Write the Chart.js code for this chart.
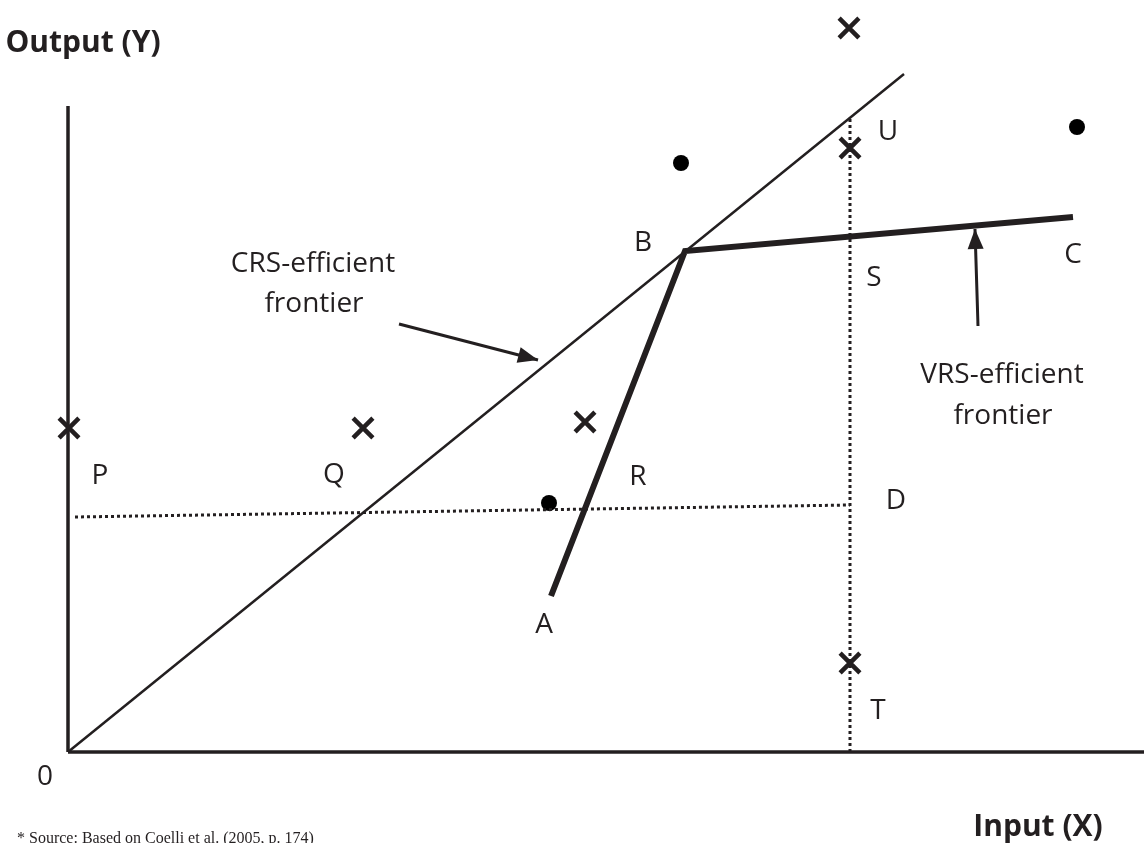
<!DOCTYPE html>
<html>
<head>
<meta charset="utf-8">
<script src="https://cdn.jsdelivr.net/npm/chart.js@4.4.0/dist/chart.umd.min.js"></script>
<style>
  html, body { margin: 0; padding: 0; background: #ffffff; overflow: hidden; }
  #wrap { width: 1144px; height: 843px; position: relative; }
</style>
</head>
<body>
<div id="wrap"><canvas id="c"></canvas></div>
<script>
// ---- data (diagram units) ----
const axisY = [{x: 0, y: 0}, {x: 0, y: 64.6}];
const axisX = [{x: 0, y: 0}, {x: 107.6, y: 0}];
const crsFrontier = [{x: 0, y: 0}, {x: 83.6, y: 67.8}];
const vrsFrontier = [{x: 48.3, y: 15.6}, {x: 61.7, y: 50.1}, {x: 100.5, y: 53.5}];
const dottedPD = [{x: 0.7, y: 23.5}, {x: 78.2, y: 24.7}];
const dottedTU = [{x: 78.2, y: 0}, {x: 78.2, y: 63.4}];
const crossFirms = [
  {x: 0.1, y: 32.4}, {x: 29.5, y: 32.4}, {x: 51.7, y: 33.0},
  {x: 78.2, y: 60.4}, {x: 78.1, y: 72.4}, {x: 78.2, y: 8.9}
];
const dotFirms = [{x: 48.1, y: 24.9}, {x: 61.3, y: 58.9}, {x: 100.9, y: 62.5}];
const crsArrow = [{x: 33.1, y: 42.8}, {x: 47.0, y: 39.2}];
const vrsArrow = [{x: 91.0, y: 42.6}, {x: 90.7, y: 52.3}];

const pointLabels = ['P', 'Q', 'R', 'D', 'A', 'B', 'S', 'U', 'C', 'T'];
const pointLabelPos = [
  {x: 3.2, y: 27.6}, {x: 26.6, y: 27.7}, {x: 57.0, y: 27.5}, {x: 82.8, y: 25.1},
  {x: 47.6, y: 12.7}, {x: 57.5, y: 50.9}, {x: 80.6, y: 47.4}, {x: 82.0, y: 62.0},
  {x: 100.5, y: 49.7}, {x: 81.0, y: 4.1}
];
const noteTexts = ['CRS-efficient', 'frontier', 'VRS-efficient', 'frontier', '0'];
const notePos = [{x: 24.5, y: 48.8}, {x: 24.6, y: 44.8}, {x: 93.4, y: 37.7}, {x: 93.5, y: 33.6}, {x: -2.3, y: -2.5}];
const axisTitleY = 'Output (Y)';
const axisTitleX = 'Input (X)';
const sourceNote = '* Source: Based on Coelli et al. (2005, p. 174)';

const INK = '#231f20';

const lineDs = (data, w, extra) => Object.assign({
  data: data, showLine: true, borderColor: INK, backgroundColor: INK,
  borderWidth: w, pointRadius: 0, pointHoverRadius: 0, fill: false, tension: 0
}, extra || {});

const annotatePlugin = {
  id: 'annotate',
  afterDatasetsDraw(chart) {
    const ctx = chart.ctx;
    const xs = chart.scales.x, ys = chart.scales.y;
    const px = p => ({x: xs.getPixelForValue(p.x), y: ys.getPixelForValue(p.y)});
    // arrowheads
    chart.data.datasets.forEach(ds => {
      if (!ds.arrow) return;
      const a = px(ds.data[ds.data.length - 2]);
      const b = px(ds.data[ds.data.length - 1]);
      const ang = Math.atan2(b.y - a.y, b.x - a.x);
      const L = 20, W = 8;
      ctx.save();
      ctx.fillStyle = INK;
      ctx.beginPath();
      ctx.moveTo(b.x, b.y);
      ctx.lineTo(b.x - L * Math.cos(ang) + W * Math.sin(ang), b.y - L * Math.sin(ang) - W * Math.cos(ang));
      ctx.lineTo(b.x - L * Math.cos(ang) - W * Math.sin(ang), b.y - L * Math.sin(ang) + W * Math.cos(ang));
      ctx.closePath();
      ctx.fill();
      ctx.restore();
    });
    ctx.save();
    ctx.fillStyle = INK;
    ctx.textAlign = 'center';
    ctx.textBaseline = 'middle';
    ctx.font = '28px "Open Sans"';
    pointLabels.forEach((t, i) => { const p = px(pointLabelPos[i]); ctx.fillText(t, p.x, p.y); });
    noteTexts.forEach((t, i) => { const p = px(notePos[i]); ctx.fillText(t, p.x, p.y); });
    ctx.font = 'bold 30px "Open Sans"';
    let p = px({x: 1.5, y: 70.9});
    ctx.fillText(axisTitleY, p.x, p.y);
    p = px({x: 97.0, y: -7.5});
    ctx.fillText(axisTitleX, p.x, p.y);
    ctx.font = '16px "Liberation Serif"';
    ctx.textAlign = 'left';
    ctx.textBaseline = 'alphabetic';
    p = px({x: -5.1, y: -9.1});
    ctx.fillText(sourceNote, p.x, p.y);
    ctx.restore();
  }
};

new Chart(document.getElementById('c'), {
  type: 'scatter',
  data: {
    datasets: [
      lineDs(axisY, 3.5),
      lineDs(axisX, 3.5),
      lineDs(crsFrontier, 2.5),
      lineDs(vrsFrontier, 6, {borderJoinStyle: 'miter'}),
      lineDs(dottedPD, 3, {borderDash: [3, 3]}),
      lineDs(dottedTU, 3, {borderDash: [3, 3]}),
      lineDs(crsArrow, 3, {arrow: true}),
      lineDs(vrsArrow, 3, {arrow: true}),
      {data: crossFirms, pointStyle: 'crossRot', pointRadius: 14, pointBorderWidth: 4.5,
       borderColor: INK, backgroundColor: INK, showLine: false},
      {data: dotFirms, pointStyle: 'circle', pointRadius: 8, pointBorderWidth: 0,
       borderColor: INK, backgroundColor: '#000000', showLine: false}
    ]
  },
  options: {
    responsive: true,
    maintainAspectRatio: false,
    animation: false,
    clip: false,
    layout: {autoPadding: false, padding: {left: 68, right: 0, top: 0, bottom: 91}},
    plugins: {legend: {display: false}, tooltip: {enabled: false}},
    events: [],
    scales: {
      x: {type: 'linear', min: 0, max: 107.6, display: false},
      y: {type: 'linear', min: 0, max: 75.2, display: false}
    }
  },
  plugins: [annotatePlugin]
});
</script>
</body>
</html>
